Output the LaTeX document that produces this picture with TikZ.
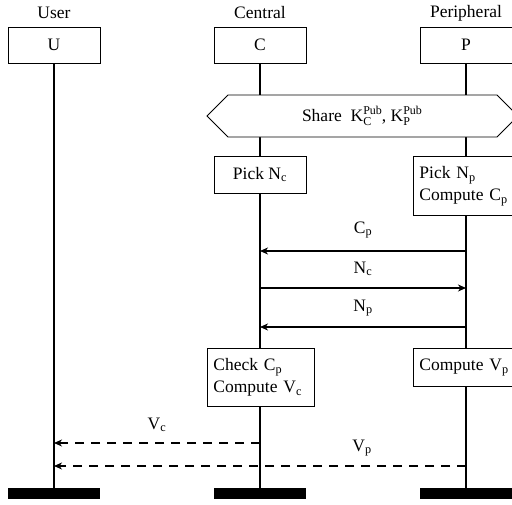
\documentclass[tikz,border=0pt]{standalone}
\usepackage{fontspec}
\setmainfont{Liberation Serif}
\usetikzlibrary{arrows.meta}
% stacked superscript over subscript, in text
\newcommand\supsubs[2]{\setbox0\hbox{\raisebox{7.5pt}{\fontsize{12}{12}\selectfont #1}}\setbox2\hbox{\raisebox{-4pt}{\fontsize{12}{12}\selectfont #2}}\rlap{\box2}\box0}
\tikzset{
  actor/.style={draw, fill=white, line width=0.9pt, minimum width=92pt, minimum height=36pt, inner sep=0pt},
  actorname/.style={inner sep=0pt},
  stepbox/.style={draw, fill=white, line width=0.9pt, inner sep=0pt},
  lifeline/.style={line width=1.6pt},
  endbar/.style={fill=black, draw=none, minimum width=92pt, minimum height=11pt, inner sep=0pt},
  msg/.style={line width=1.2pt, -{Stealth[length=8pt,width=7pt,inset=2.5pt]}},
  reply/.style={msg, dash pattern=on 9pt off 7pt},
  lbl/.style={inner sep=0pt}
}
\begin{document}
\begin{tikzpicture}[x=1pt,y=-1pt,font=\fontsize{17.5}{21}\selectfont]
\useasboundingbox (0,0) rectangle (512,504);

% actor names
\node[actorname] (nU) at (54,13) {User};
\node[actorname] (nC) at (260,13) {Central};
\node[actorname] (nP) at (466,13) {Peripheral};

% bottom bars
\node[endbar] (eU) at (54,493.5) {};
\node[endbar] (eC) at (260,493.5) {};
\node[endbar] (eP) at (466,493.5) {};

% head boxes
\node[actor] (U) at (54,45) {};
\node[actor] (C) at (260,45) {};
\node[actor] (P) at (466,45) {};

% lifelines
\draw[lifeline] (U.south) -- (eU.north);
\draw[lifeline] (C.south) -- (eC.north);
\draw[lifeline] (P.south) -- (eP.north);

% head box labels, drawn over the lifelines
\node[actor] at (54,45) {U};
\node[actor] at (260,45) {C};
\node[actor] at (466,45) {P};

% key sharing hexagon
\coordinate (hL) at (207,116);
\coordinate (hTL) at (228,95);
\coordinate (hTR) at (497,95);
\coordinate (hR) at (518,116);
\coordinate (hBR) at (497,137);
\coordinate (hBL) at (228,137);
\filldraw[fill=white, line width=0.9pt] (hL) -- (hTL) -- (hTR) -- (hR) -- (hBR) -- (hBL) -- cycle;
\node[lbl] (share) at (362,116) {Share\ \ K\supsubs{Pub}{C}, K\supsubs{Pub}{P}};

% local computations
\node[stepbox, minimum width=92pt, minimum height=37pt] (pickc) at (260,174.5) {Pick N\textsubscript{c}};
\node[stepbox, anchor=north west, minimum width=106pt, minimum height=59pt, align=left, text width=96pt, inner xsep=6pt] (pickp) at (413,156)
  {Pick N\textsubscript{p}\\[1pt]Compute C\textsubscript{p}};
\node[stepbox, anchor=north west, minimum width=105pt, minimum height=58pt, align=left, text width=95pt, inner xsep=6pt] (checkc) at (207,348)
  {Check C\textsubscript{p}\\[1pt]Compute V\textsubscript{c}};
\node[stepbox, anchor=north west, minimum width=106pt, minimum height=38pt, align=left, text width=96pt, inner xsep=6pt] (compvp) at (413,348)
  {Compute V\textsubscript{p}};

% message endpoints on the lifelines
\coordinate (p1) at (466,251);
\coordinate (c1) at (260,251);
\coordinate (c2) at (260,288);
\coordinate (p2) at (466,288);
\coordinate (p3) at (466,327);
\coordinate (c3) at (260,327);
\coordinate (c4) at (260,443);
\coordinate (u4) at (54,443);
\coordinate (p5) at (466,466);
\coordinate (u5) at (54,466);

% messages
\draw[msg] (p1) -- (c1);
\node[lbl] (m1) at (363,230) {C\textsubscript{p}};
\draw[msg] (c2) -- (p2);
\node[lbl] (m2) at (363,269) {N\textsubscript{c}};
\draw[msg] (p3) -- (c3);
\node[lbl] (m3) at (363,308) {N\textsubscript{p}};
\draw[reply] (c4) -- (u4);
\node[lbl] (m4) at (157,425) {V\textsubscript{c}};
\draw[reply] (p5) -- (u5);
\node[lbl] (m5) at (362,448) {V\textsubscript{p}};
\end{tikzpicture}
\end{document}
